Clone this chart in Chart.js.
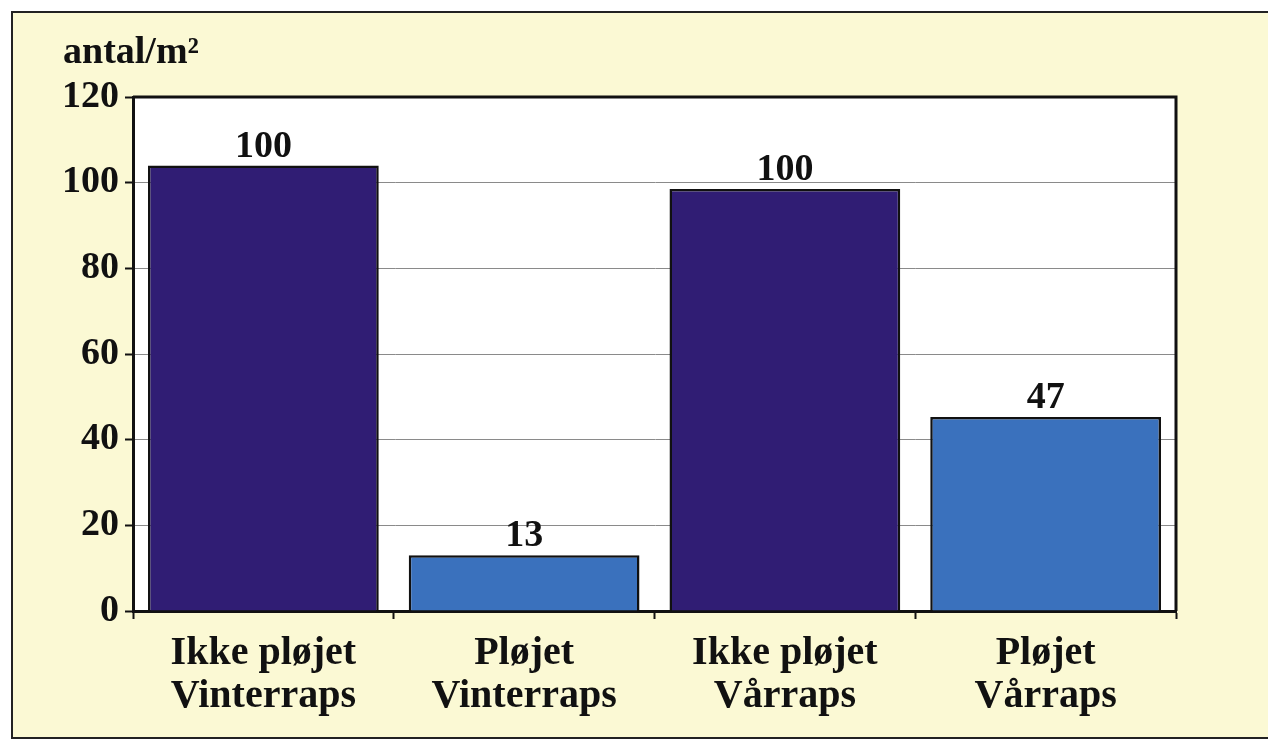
<!DOCTYPE html>
<html>
<head>
<meta charset="utf-8">
<script src="https://cdn.jsdelivr.net/npm/chart.js@4/dist/chart.umd.min.js"></script>
<style>
  html, body { margin: 0; padding: 0; background: #ffffff; }
  canvas { display: block; }
</style>
</head>
<body>
<canvas id="c" width="1268" height="740"></canvas>
<script>
// ---- data ----
const categories = [["Ikke pløjet", "Vinterraps"], ["Pløjet", "Vinterraps"], ["Ikke pløjet", "Vårraps"], ["Pløjet", "Vårraps"]];
const barHeights = [104, 13, 98.5, 45.3];
const valueLabels = ["100", "13", "100", "47"];
const barColors = ["#301d74", "#3a71bd", "#301d74", "#3a71bd"];
const yTitle = "antal/m²";
const yMin = 0, yMax = 120, yStep = 20;

const FONT = "'Liberation Serif', 'Times New Roman', serif";

const backgroundPlugin = {
  id: 'bg',
  beforeDraw(chart) {
    const ctx = chart.ctx;
    ctx.save();
    ctx.fillStyle = '#ffffff';
    ctx.fillRect(0, 0, chart.width, chart.height);
    ctx.fillStyle = '#fbf9d4';
    ctx.fillRect(12, 12, chart.width, 726);
    ctx.strokeStyle = '#222';
    ctx.lineWidth = 2;
    ctx.strokeRect(12, 12, chart.width + 10, 726);
    const a = chart.chartArea;
    ctx.fillStyle = '#ffffff';
    ctx.fillRect(a.left, a.top, a.right - a.left, a.bottom - a.top);
    ctx.restore();
  },
  afterDraw(chart) {
    const ctx = chart.ctx;
    const a = chart.chartArea;
    ctx.save();
    ctx.strokeStyle = '#111';
    ctx.lineWidth = 3;
    ctx.beginPath();
    ctx.moveTo(a.left, a.top);
    ctx.lineTo(a.right, a.top);
    ctx.lineTo(a.right, a.bottom);
    ctx.stroke();
    ctx.fillStyle = '#111';
    ctx.font = "bold 38px " + FONT;
    ctx.textAlign = 'left';
    ctx.textBaseline = 'alphabetic';
    ctx.fillText(yTitle, 63, 63);
    const meta = chart.getDatasetMeta(0);
    ctx.font = "bold 38px " + FONT;
    ctx.textAlign = 'center';
    meta.data.forEach((bar, i) => {
      ctx.fillText(valueLabels[i], bar.x, bar.y - 9);
    });
    ctx.restore();
  }
};

new Chart(document.getElementById('c'), {
  type: 'bar',
  data: {
    labels: categories,
    datasets: [{
      data: barHeights,
      backgroundColor: barColors,
      borderColor: '#111',
      borderWidth: 2.5,
      barPercentage: 0.885,
      categoryPercentage: 1.0
    }]
  },
  plugins: [backgroundPlugin],
  options: {
    responsive: false,
    animation: false,
    layout: { padding: { left: 0, right: 92, top: 97, bottom: 0 } },
    plugins: { legend: { display: false }, tooltip: { enabled: false } },
    scales: {
      x: {
        grid: {
          offset: true,
          drawOnChartArea: false,
          drawTicks: true,
          tickLength: 8,
          tickColor: '#111',
          tickWidth: 2
        },
        border: { color: '#111', width: 3 },
        ticks: {
          color: '#111',
          font: { family: FONT, size: 40, weight: 'bold', lineHeight: 1.08 },
          padding: 13,
          maxRotation: 0,
          autoSkip: false
        },
        afterFit(scale) { scale.height = 129; }
      },
      y: {
        min: yMin,
        max: yMax,
        grid: {
          color: (ctx) => (ctx.tick && ctx.tick.value > yMin && ctx.tick.value < yMax) ? '#8a8a8a' : 'rgba(0,0,0,0)',
          lineWidth: 1,
          tickLength: 8,
          tickColor: '#111',
          tickWidth: 2
        },
        border: { color: '#111', width: 3 },
        ticks: {
          stepSize: yStep,
          color: '#111',
          font: { family: FONT, size: 38, weight: 'bold' },
          padding: 6
        },
        afterFit(scale) { scale.width = 133; }
      }
    }
  }
});
</script>
</body>
</html>
